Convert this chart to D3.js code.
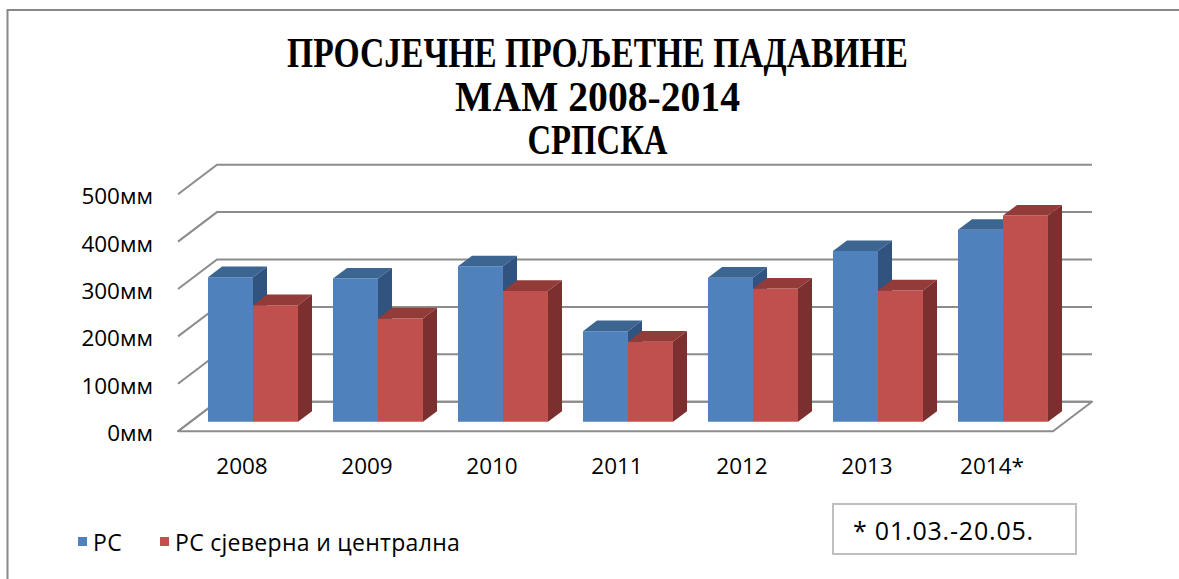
<!DOCTYPE html>
<html>
<head>
<meta charset="utf-8">
<script src="https://cdn.jsdelivr.net/npm/d3@7"></script>
<style>
  html, body { margin: 0; padding: 0; background: #fff; }
  svg { display: block; }
</style>
</head>
<body>
<svg id="chart" width="1179" height="579"></svg>
<script>
// ---------- DATA ----------
const years = ['2008', '2009', '2010', '2011', '2012', '2013', '2014*'];
const seriesNames = ['РС', 'РС сјеверна и централна'];
const rsValues = [305, 302, 328, 191, 304, 360, 405];
const rsNorthCentralValues = [246, 218, 276, 169, 281, 277, 435];
const yTickValues = [0, 100, 200, 300, 400, 500];
const yTickLabels = ['0мм', '100мм', '200мм', '300мм', '400мм', '500мм'];
const titleLines = ['ПРОСЈЕЧНЕ ПРОЉЕТНЕ ПАДАВИНЕ', 'МАМ 2008-2014', 'СРПСКА'];
const noteText = '* 01.03.-20.05.';

// ---------- LAYOUT ----------
const svg = d3.select('#chart');
const W = 1179, H = 579;
const floorLeft = 178, floorRight = 1053;
const DX = 39, DY = 29.5;          // depth vector (front -> back)
const tFront = 0.32, tBack = 0.68; // bar depth range

const colors = {
  front: ['#4F81BD', '#C0504D'],
  top:   ['#3D6592', '#933B39'],
  side:  ['#30537F', '#7C2F2F']
};

const y = d3.scaleLinear().domain([0, 500]).range([431.2, 194.2]);
const x = d3.scaleBand().domain(years).range([floorLeft, floorRight])
  .paddingInner(0.28).paddingOuter(0.14);
const xs = d3.scaleBand().domain(seriesNames).range([0, x.bandwidth()]);

const pt = (px, v, t) => [px + t * DX, y(v) - t * DY];
const poly = pts => pts.map(p => p.join(',')).join(' ');

// outer frame
svg.append('path')
  .attr('d', `M7.5,${H} L7.5,10 L${W},10`)
  .attr('fill', 'none').attr('stroke', '#888').attr('stroke-width', 2);

// title
const fontSerif = "'Liberation Serif', 'DejaVu Serif', serif";
const titleWidths = [621, 285, 140];
const titleBaselines = [67, 111, 154];
svg.append('g').selectAll('text').data(titleLines).join('text')
  .attr('x', 597.5)
  .attr('y', (d, i) => titleBaselines[i])
  .attr('text-anchor', 'middle')
  .attr('font-family', fontSerif)
  .attr('font-weight', 'bold')
  .attr('font-size', 43)
  .attr('textLength', (d, i) => titleWidths[i])
  .attr('lengthAdjust', 'spacingAndGlyphs')
  .attr('fill', '#000')
  .text(d => d);

// floor
const gGrid = svg.append('g');
gGrid.append('polygon')
  .attr('points', poly([pt(floorLeft, 0, 0), pt(floorRight, 0, 0), pt(floorRight, 0, 1), pt(floorLeft, 0, 1)]))
  .attr('fill', '#fff').attr('stroke', '#8c8c8c').attr('stroke-width', 2)
  .attr('stroke-linejoin', 'round');

// gridlines (left side wall + back wall)
gGrid.selectAll('polyline').data(yTickValues).join('polyline')
  .attr('points', v => poly([pt(floorLeft, v, 0), pt(floorLeft, v, 1), pt(floorRight, v, 1)]))
  .attr('fill', 'none').attr('stroke', '#8c8c8c').attr('stroke-width', 2);

// y labels
const fontSans = "'Open Sans', 'Noto Sans', 'DejaVu Sans', sans-serif";
svg.append('g').selectAll('text').data(yTickValues).join('text')
  .attr('x', 153)
  .attr('y', v => y(v) + 1.5)
  .attr('text-anchor', 'end')
  .attr('dominant-baseline', 'central')
  .attr('font-family', fontSans)
  .attr('font-size', 22.5)
  .attr('fill', '#000')
  .text((v, i) => yTickLabels[i]);

// bars
const seriesValues = [rsValues, rsNorthCentralValues];
const gBars = svg.append('g');
years.forEach((yr, ci) => {
  seriesNames.forEach((s, si) => {
    const v = seriesValues[si][ci];
    const x0 = x(yr) + xs(s), x1 = x0 + xs.bandwidth();
    const g = gBars.append('g');
    g.append('polygon')
      .attr('points', poly([pt(x0, 0, tFront), pt(x1, 0, tFront), pt(x1, v, tFront), pt(x0, v, tFront)]))
      .attr('fill', colors.front[si]);
    g.append('polygon')
      .attr('points', poly([pt(x0, v, tFront), pt(x1, v, tFront), pt(x1, v, tBack), pt(x0, v, tBack)]))
      .attr('fill', colors.top[si]);
    g.append('polygon')
      .attr('points', poly([pt(x1, 0, tFront), pt(x1, 0, tBack), pt(x1, v, tBack), pt(x1, v, tFront)]))
      .attr('fill', colors.side[si]);
  });
});

// category labels
svg.append('g').selectAll('text').data(years).join('text')
  .attr('x', d => x(d) + x.bandwidth() / 2 + 1.5)
  .attr('y', 465)
  .attr('text-anchor', 'middle')
  .attr('dominant-baseline', 'central')
  .attr('font-family', fontSans)
  .attr('font-size', 22.5)
  .attr('fill', '#000')
  .text(d => d);

// legend
const legendX = [78, 160];
const gLeg = svg.append('g');
seriesNames.forEach((s, i) => {
  gLeg.append('rect').attr('x', legendX[i]).attr('y', 537).attr('width', 9).attr('height', 9)
    .attr('fill', colors.front[i]);
  gLeg.append('text').attr('x', legendX[i] + 15).attr('y', 542)
    .attr('dominant-baseline', 'central')
    .attr('font-family', fontSans).attr('font-size', 23).attr('letter-spacing', 0.3).attr('fill', '#000')
    .text(s);
});

// note box
svg.append('rect').attr('x', 833).attr('y', 504).attr('width', 243).attr('height', 50)
  .attr('fill', '#fff').attr('stroke', '#bfbfbf').attr('stroke-width', 2);
svg.append('text').attr('x', 853).attr('y', 530)
  .attr('dominant-baseline', 'central')
  .attr('font-family', fontSans).attr('font-size', 25).attr('letter-spacing', 0.8).attr('fill', '#000')
  .text(noteText);
</script>
</body>
</html>
